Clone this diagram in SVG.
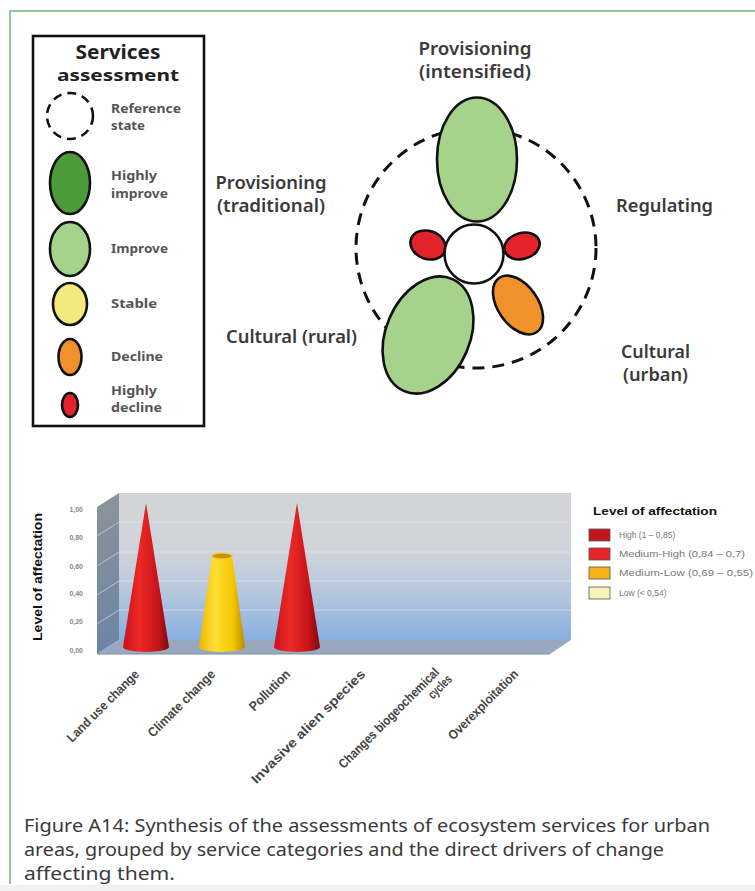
<svg xmlns="http://www.w3.org/2000/svg" width="755" height="891" viewBox="0 0 755 891">
<style>
.lbl{font-family:"Noto Sans","Open Sans",sans-serif;font-weight:600;font-size:17px;fill:#3a3a3a}
.leg{font-family:"Noto Sans","Open Sans",sans-serif;font-weight:700;font-size:13px;fill:#555}
.ttl{font-family:"Noto Sans","Open Sans",sans-serif;font-weight:700;font-size:16px;fill:#222}
.shape{stroke:#111;stroke-width:2.6}
.xl{font-family:"Liberation Sans",Arial,sans-serif;font-weight:700;font-size:13px;fill:#444}
.yl{font-family:"Liberation Sans",Arial,sans-serif;font-weight:700;font-size:7px;fill:#888;text-anchor:end}
.cl{font-family:"Liberation Sans",Arial,sans-serif;font-size:8.5px;fill:#777}
.cap{font-family:"Noto Sans","Open Sans",sans-serif;font-size:18px;fill:#3a3a3a}
</style>
<defs>
<linearGradient id="wall" x1="0" y1="0" x2="0" y2="1">
<stop offset="0" stop-color="#d3d4d6"/>
<stop offset="0.4" stop-color="#d0d4da"/>
<stop offset="0.7" stop-color="#b3c6de"/>
<stop offset="1" stop-color="#88afe0"/>
</linearGradient>
<linearGradient id="side" x1="0" y1="0" x2="0" y2="1">
<stop offset="0" stop-color="#8d939b"/>
<stop offset="1" stop-color="#6b84a4"/>
</linearGradient>
<linearGradient id="red" x1="0" y1="0" x2="1" y2="0">
<stop offset="0" stop-color="#c8121a"/>
<stop offset="0.35" stop-color="#ee2a26"/>
<stop offset="0.75" stop-color="#c5141a"/>
<stop offset="1" stop-color="#7e0a0e"/>
</linearGradient>
<linearGradient id="yel" x1="0" y1="0" x2="1" y2="0">
<stop offset="0" stop-color="#f0b400"/>
<stop offset="0.35" stop-color="#ffe033"/>
<stop offset="0.75" stop-color="#f3c400"/>
<stop offset="1" stop-color="#b88a00"/>
</linearGradient>
</defs>
<rect width="755" height="891" fill="#fff"/>
<path d="M10,884 L10,11 L755,11" fill="none" stroke="#8ec79d" stroke-width="2"/>
<rect x="0" y="885" width="755" height="6" fill="#f1f1f1"/>

<g id="legend">
<rect x="33" y="36" width="171" height="390" fill="#fff" stroke="#111" stroke-width="2.6"/>
<text class="ttl" x="118" y="59" text-anchor="middle" textLength="85" lengthAdjust="spacingAndGlyphs" transform="translate(0,-6) scale(1,1.1)" style="font-size:17px">Services</text>
<text class="ttl" x="118" y="81" text-anchor="middle" textLength="122" lengthAdjust="spacingAndGlyphs">assessment</text>
<g id="leg-reference"><circle cx="70" cy="116" r="23" fill="none" stroke="#111" stroke-width="2.6" stroke-dasharray="9 6"/>
<text class="leg" x="111" y="113" textLength="70" lengthAdjust="spacingAndGlyphs">Reference</text>
<text class="leg" x="111" y="130" textLength="34" lengthAdjust="spacingAndGlyphs">state</text></g>
<g id="leg-highly-improve"><ellipse class="shape" cx="70" cy="183" rx="20" ry="31" fill="#4c9a3a"/>
<text class="leg" x="111" y="180" textLength="46" lengthAdjust="spacingAndGlyphs">Highly</text>
<text class="leg" x="111" y="198" textLength="57" lengthAdjust="spacingAndGlyphs">improve</text></g>
<g id="leg-improve"><ellipse class="shape" cx="70" cy="249" rx="20" ry="27" fill="#a6d38b"/>
<text class="leg" x="111" y="253" textLength="57" lengthAdjust="spacingAndGlyphs">Improve</text></g>
<g id="leg-stable"><ellipse class="shape" cx="70" cy="304" rx="17" ry="21" fill="#f2ea7e"/>
<text class="leg" x="111" y="308" textLength="46" lengthAdjust="spacingAndGlyphs">Stable</text></g>
<g id="leg-decline"><ellipse class="shape" cx="70" cy="357" rx="11.5" ry="18" fill="#f0912b"/>
<text class="leg" x="111" y="361" textLength="52" lengthAdjust="spacingAndGlyphs">Decline</text></g>
<g id="leg-highly-decline"><ellipse class="shape" cx="70" cy="405" rx="8" ry="12" fill="#e3222b"/>
<text class="leg" x="111" y="395" textLength="46" lengthAdjust="spacingAndGlyphs">Highly</text>
<text class="leg" x="111" y="412" textLength="51" lengthAdjust="spacingAndGlyphs">decline</text></g>
</g>

<g id="connectors"></g>

<g id="reference-state"><circle cx="476" cy="248" r="120" fill="none" stroke="#111" stroke-width="3" stroke-dasharray="12 8"/></g>
<g id="provisioning-intensified">
<ellipse class="shape" cx="477" cy="159.5" rx="40" ry="62" fill="#a6d38b"/>
<text class="lbl" x="475" y="55" text-anchor="middle" textLength="113" lengthAdjust="spacingAndGlyphs">Provisioning</text>
<text class="lbl" x="475" y="78" text-anchor="middle" textLength="112" lengthAdjust="spacingAndGlyphs">(intensified)</text>
</g>
<g id="provisioning-traditional">
<ellipse class="shape" cx="428" cy="245" rx="18" ry="14" transform="rotate(20 428 245)" fill="#e3222b"/>
<text class="lbl" x="271" y="189" text-anchor="middle" textLength="111" lengthAdjust="spacingAndGlyphs">Provisioning</text>
<text class="lbl" x="271" y="212" text-anchor="middle" textLength="108" lengthAdjust="spacingAndGlyphs">(traditional)</text>
</g>
<g id="regulating">
<ellipse class="shape" cx="522" cy="246" rx="18" ry="13" transform="rotate(-15 522 246)" fill="#e3222b"/>
<text class="lbl" x="616" y="212" textLength="97" lengthAdjust="spacingAndGlyphs">Regulating</text>
</g>
<g id="cultural-urban">
<ellipse class="shape" cx="518" cy="305" rx="20" ry="33" transform="rotate(-35 518 305)" fill="#f0912b"/>
<text class="lbl" x="621" y="358" textLength="69" lengthAdjust="spacingAndGlyphs">Cultural</text>
<text class="lbl" x="623" y="381" textLength="65" lengthAdjust="spacingAndGlyphs">(urban)</text>
</g>
<g id="cultural-rural">
<ellipse class="shape" cx="428" cy="335" rx="42" ry="61" transform="rotate(23 428 335)" fill="#a6d38b"/>
<text class="lbl" x="226" y="343" textLength="131" lengthAdjust="spacingAndGlyphs">Cultural (rural)</text>
</g>
<g id="center"><circle class="shape" cx="474" cy="254" r="29.5" fill="#fff"/></g>

<g id="chart">
<polygon points="119,493 571,493 571,640 119,640" fill="url(#wall)"/>
<g stroke="#e4e8ee" stroke-width="0.8" opacity="0.7">
<line x1="119" y1="522" x2="571" y2="522"/><line x1="119" y1="552" x2="571" y2="552"/>
<line x1="119" y1="581" x2="571" y2="581"/><line x1="119" y1="610" x2="571" y2="610"/>
</g>
<polygon points="97,507 119,493 119,640 97,654" fill="url(#side)"/>
<g stroke="#c9d2de" stroke-width="0.8">
<line x1="97" y1="536" x2="119" y2="522"/><line x1="97" y1="566" x2="119" y2="552"/>
<line x1="97" y1="595" x2="119" y2="581"/><line x1="97" y1="624" x2="119" y2="610"/>
</g>
<polygon points="97,654 550,654 571,640 119,640" fill="#98a8bf"/>
<line x1="97" y1="654" x2="550" y2="654" stroke="#7d8ea8" stroke-width="1"/>
<g id="cone-land-use"><path d="M146,503 L123,647 A23,5 0 0 0 169,647 Z" fill="url(#red)"/></g>
<g id="cone-climate"><path d="M212,556 L199,647 A23,5 0 0 0 245,647 L232,556 Z" fill="url(#yel)"/>
<ellipse cx="222" cy="556" rx="10" ry="3" fill="#c99500" stroke="#f6cf30" stroke-width="1"/></g>
<g id="cone-pollution"><path d="M297,503 L274,647 A23,5 0 0 0 320,647 Z" fill="url(#red)"/></g>
<text class="yl" x="83" y="512">1,00</text>
<text class="yl" x="83" y="540">0,80</text>
<text class="yl" x="83" y="569">0,60</text>
<text class="yl" x="83" y="596">0,40</text>
<text class="yl" x="83" y="624">0,20</text>
<text class="yl" x="83" y="653">0,00</text>
<text font-family="Liberation Sans,Arial,sans-serif" font-weight="700" font-size="13" fill="#111" text-anchor="middle" transform="translate(42,577) rotate(-90)" textLength="128" lengthAdjust="spacingAndGlyphs">Level of affectation</text>
<text class="xl" text-anchor="end" transform="translate(140,675) rotate(-45)" textLength="96" lengthAdjust="spacingAndGlyphs">Land use change</text>
<text class="xl" text-anchor="end" transform="translate(216,675) rotate(-45)" textLength="89" lengthAdjust="spacingAndGlyphs">Climate change</text>
<text class="xl" text-anchor="end" transform="translate(291,675) rotate(-45)" textLength="52" lengthAdjust="spacingAndGlyphs">Pollution</text>
<text class="xl" text-anchor="end" transform="translate(366,675) rotate(-45)" textLength="155" lengthAdjust="spacingAndGlyphs">Invasive alien species</text>
<text class="xl" text-anchor="end" transform="translate(440,673) rotate(-45)"><tspan x="0" y="0" textLength="136" lengthAdjust="spacingAndGlyphs">Changes biogeochemical</tspan><tspan x="4" y="14" textLength="28" lengthAdjust="spacingAndGlyphs">cycles</tspan></text>
<text class="xl" text-anchor="end" transform="translate(519,675) rotate(-45)" textLength="93" lengthAdjust="spacingAndGlyphs">Overexploitation</text>
<g id="chart-legend">
<text font-family="Liberation Sans,Arial,sans-serif" font-weight="700" font-size="11" fill="#111" x="593" y="515" textLength="124" lengthAdjust="spacingAndGlyphs">Level of affectation</text>
<rect x="589" y="529" width="21" height="12" fill="#c0161e" stroke="#555" stroke-width="0.8"/>
<text class="cl" x="619" y="538">High (1 – 0,85)</text>
<rect x="589" y="548" width="21" height="12" fill="#e8262a" stroke="#555" stroke-width="0.8"/>
<text class="cl" x="619" y="557" textLength="126" lengthAdjust="spacingAndGlyphs">Medium-High (0,84 – 0,7)</text>
<rect x="589" y="567" width="21" height="12" fill="#f5b317" stroke="#555" stroke-width="0.8"/>
<text class="cl" x="619" y="576" textLength="134" lengthAdjust="spacingAndGlyphs">Medium-Low (0,69 – 0,55)</text>
<rect x="589" y="587" width="21" height="12" fill="#fbf4b8" stroke="#555" stroke-width="0.8"/>
<text class="cl" x="619" y="596">Low (&lt; 0,54)</text>
</g>
</g>

<g id="caption">
<text class="cap" x="24" y="832" textLength="686" lengthAdjust="spacingAndGlyphs">Figure A14: Synthesis of the assessments of ecosystem services for urban</text>
<text class="cap" x="24" y="856" textLength="640" lengthAdjust="spacingAndGlyphs">areas, grouped by service categories and the direct drivers of change</text>
<text class="cap" x="24" y="880" textLength="151" lengthAdjust="spacingAndGlyphs">affecting them.</text>
</g>
</svg>
